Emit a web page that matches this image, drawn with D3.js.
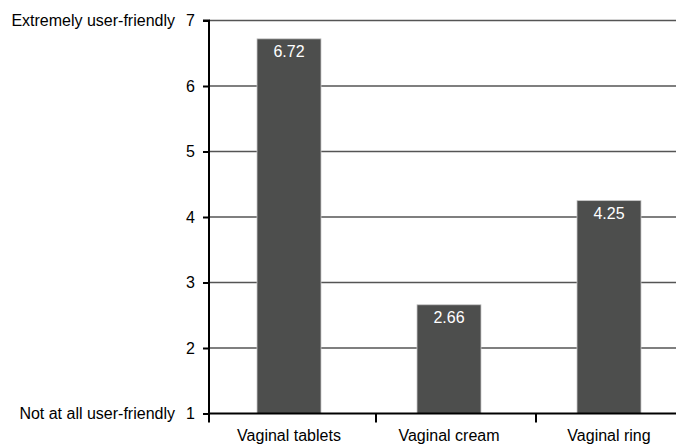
<!DOCTYPE html>
<html><head><meta charset="utf-8">
<script src="https://cdn.jsdelivr.net/npm/d3@7"></script>
<style>body{margin:0;background:#fff}svg{display:block;font-family:"Liberation Sans",Arial,sans-serif}</style>
</head><body><svg id="c" width="676" height="445"></svg>
<script>
const categories = ["Vaginal tablets", "Vaginal cream", "Vaginal ring"];
const values = [6.72, 2.66, 4.25];
const yTicks = [1, 2, 3, 4, 5, 6, 7];
const yEndLabels = {1: "Not at all user-friendly", 7: "Extremely user-friendly"};

const svg = d3.select("#c");
const x0 = 209, yTop = 20.5, yBot = 413.5;
const y = d3.scaleLinear().domain([1, 7]).range([yBot, yTop]);
const x = d3.scaleBand().domain(categories).range([x0, x0 + 480]).paddingInner(0.6).paddingOuter(0.3);

// gridlines
svg.append("g").selectAll("line").data(yTicks.filter(d => d > 1)).join("line")
  .attr("x1", x0).attr("x2", 676).attr("y1", d => y(d)).attr("y2", d => y(d))
  .attr("stroke", "#555").attr("stroke-width", 1.3);

// bars
svg.append("g").selectAll("rect").data(values).join("rect")
  .attr("x", (d, i) => x(categories[i])).attr("width", x.bandwidth())
  .attr("y", d => y(d)).attr("height", d => y(1) - y(d))
  .attr("fill", "#4d4e4d").attr("stroke", "#c8c8c8").attr("stroke-width", 0.8);

svg.append("g").selectAll("text").data(values).join("text")
  .attr("x", (d, i) => x(categories[i]) + x.bandwidth() / 2)
  .attr("y", d => y(d) + 18)
  .attr("text-anchor", "middle").attr("fill", "#fff").attr("font-size", 16)
  .text(d => d.toFixed(2));

// y axis
const yAxis = d3.axisLeft(y).tickValues(yTicks).tickSize(6).tickPadding(8).tickFormat(d3.format("d"));
const gy = svg.append("g").attr("transform", `translate(${x0},0)`).call(yAxis);
gy.select(".domain").attr("stroke", "#000").attr("stroke-width", 2).attr("d", `M-6,${yTop}H0V${yBot}`);
gy.selectAll(".tick line").attr("stroke", "#000").attr("stroke-width", 2);
gy.selectAll(".tick text").attr("font-size", 16).attr("fill", "#000").attr("font-family", "Liberation Sans, Arial, sans-serif");

svg.append("g").selectAll("text").data(Object.keys(yEndLabels)).join("text")
  .attr("x", 175).attr("y", d => y(+d)).attr("dy", "0.32em")
  .attr("text-anchor", "end").attr("font-size", 16).attr("fill", "#000")
  .text(d => yEndLabels[d]);

// x axis
const gx = svg.append("g").attr("transform", `translate(0,${yBot})`);
gx.append("line").attr("x1", x0 - 1).attr("x2", 676).attr("y1", 0).attr("y2", 0).attr("stroke", "#000").attr("stroke-width", 2);
const boundaries = [x0].concat(categories.slice(0, 2).map(c => x(c) + x.bandwidth() / 2 + x.step() / 2 + 7));
gx.selectAll("line.t").data(boundaries).join("line").attr("class", "t")
  .attr("x1", d => d).attr("x2", d => d).attr("y1", 0).attr("y2", 9)
  .attr("stroke", "#000").attr("stroke-width", 2);
gx.selectAll("text").data(categories).join("text")
  .attr("x", c => x(c) + x.bandwidth() / 2).attr("y", 27)
  .attr("text-anchor", "middle").attr("font-size", 16).attr("fill", "#000")
  .text(c => c);
</script></body></html>
